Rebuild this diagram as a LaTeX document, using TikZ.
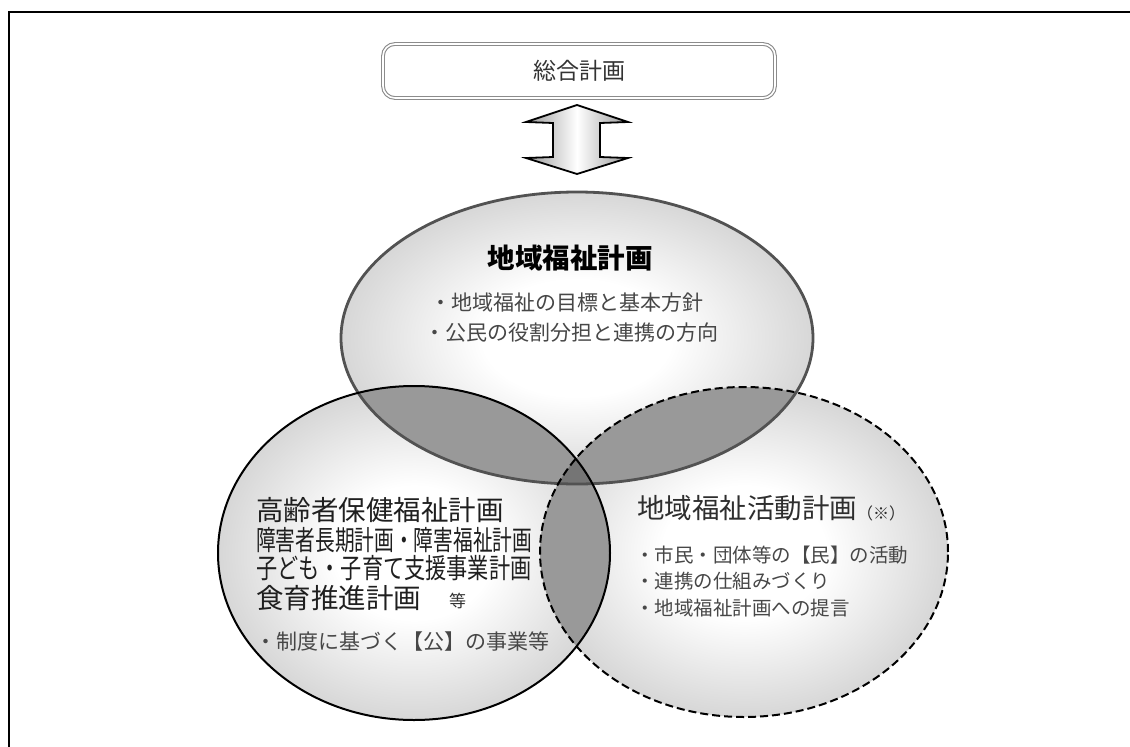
\documentclass[tikz,border=0pt]{standalone}
\usepackage{fontspec}
\setmainfont{Noto Sans CJK JP}
\pgfdeclareradialshading{softrad}{\pgfpoint{0bp}{0bp}}{color(0bp)=(white); color(10bp)=(white); color(50bp)=(black!42); color(100bp)=(black!42)}
\tikzset{
  ellT/.style={insert path={(577,338) ellipse [x radius=236pt, y radius=146pt]}},
  ellL/.style={insert path={(414,553) ellipse [x radius=196pt, y radius=167pt]}},
  ellR/.style={insert path={(744,552) ellipse [x radius=204pt, y radius=165pt]}},
  txt/.style={inner sep=0pt, anchor=west},
  bigtxt/.style={txt, text=black!88, font=\fontsize{27.5}{30}\selectfont},
  bultxt/.style={txt, text=black!72, font=\fontsize{21}{24}\selectfont},
  bulrtxt/.style={txt, text=black!72, font=\fontsize{19.5}{22}\selectfont},
  overlap/.style={fill=black!40},
  triple/.style={fill=black!54},
}
\begin{document}
\begin{tikzpicture}[x=1pt,y=-1pt]
\useasboundingbox (0,0) rectangle (1130,747);
\fill[white] (0,0) rectangle (1130,747);
% frame
\coordinate (fA) at (9,747);
\coordinate (fB) at (9,12);
\coordinate (fC) at (1130,12);
\draw[line width=2pt] (fA) -- (fB) -- (fC);

% ellipse shadings
\shade[shading=softrad][ellL];
\shade[shading=softrad][ellR];
\shade[shading=softrad][ellT];
% pairwise overlaps
\begin{scope}\clip[ellT]; \fill[overlap][ellL];\end{scope}
\begin{scope}\clip[ellT]; \fill[overlap][ellR];\end{scope}
\begin{scope}\clip[ellL]; \fill[overlap][ellR];\end{scope}
\begin{scope}\clip[ellT]; \clip[ellL]; \fill[triple][ellR];\end{scope}
% outlines
\draw[line width=2.8pt, black!68][ellT];
\draw[line width=2pt, black][ellL];
\draw[line width=2pt, black, dash pattern=on 8pt off 4pt][ellR];

% top box
\node[draw=black!45, double=white, double distance=1.6pt, line width=1.1pt,
      rounded corners=12pt, minimum width=392pt, minimum height=54pt,
      text=black!80, font=\fontsize{23}{26}\selectfont] (sogo) at (579,71) {総合計画};

% double arrow
\shade[left color=black!40, right color=black!40, middle color=white, draw=black, line width=1.8pt, line join=miter]
  (577,105) -- (628,122) -- (600,123) -- (600,157) -- (628,158) -- (577,174)
  -- (526,158) -- (553,157) -- (553,123) -- (526,122) -- cycle;

% top ellipse texts
\node[inner sep=0pt, text=black, font=\fontsize{27.5}{30}\selectfont\bfseries] (th) at (570,258) {地域福祉計画};
\node[bultxt] (t1) at (430,303) {・地域福祉の目標と基本方針};
\node[bultxt] (t2) at (424,333) {・公民の役割分担と連携の方向};

% left texts
\node[bigtxt] (l1) at (256,510) {高齢者保健福祉計画};
\node[bigtxt] (l2) at (256,540) {\scalebox{0.717}[1]{障害者長期計画・障害福祉計画}};
\node[bigtxt] (l3) at (256,568) {\scalebox{0.77}[1]{子ども・子育て支援事業計画}};
\node[bigtxt] (l4) at (256,598) {食育推進計画};
\node[txt, text=black!80, font=\fontsize{17}{20}\selectfont] (l5) at (449,601) {等};
\node[bultxt] (l6) at (255,642) {・制度に基づく【公】の事業等};

% right texts
\node[bigtxt, text=black!82] (r1) at (637,508) {地域福祉活動計画{\fontsize{16}{18}\selectfont\raisebox{-1pt}{（※）}}};
\node[bulrtxt] (r2) at (635,555) {・市民・団体等の【民】の活動};
\node[bulrtxt] (r3) at (635,581) {・連携の仕組みづくり};
\node[bulrtxt] (r4) at (635,608) {・地域福祉計画への提言};
\end{tikzpicture}
\end{document}
